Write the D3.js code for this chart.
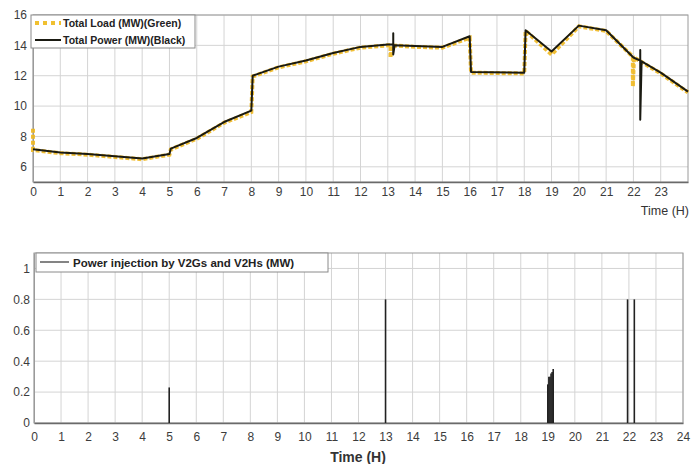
<!DOCTYPE html>
<html>
<head>
<meta charset="utf-8">
<script src="https://cdn.jsdelivr.net/npm/d3@7"></script>
<style>
  body { margin: 0; background: #fff; }
  text { font-family: "Liberation Sans", Arial, sans-serif; }
</style>
</head>
<body>
<svg width="691" height="464"></svg>
<script>
// top panel: total power (black) and total load (yellow dashed), hours vs MW
var powerT = [0, 1, 2, 3, 4, 5, 5.05, 6, 7, 8, 8.05, 9, 10, 11, 12, 13, 13.2, 13.2, 13.2, 13.25, 14, 15, 16, 16.05, 18, 18.05, 19, 20, 21, 22, 22.25, 22.25, 22.25, 22.3, 23, 24];
var powerV = [7.15, 6.95, 6.85, 6.7, 6.55, 6.85, 7.2, 7.9, 8.95, 9.7, 12.0, 12.6, 13.0, 13.5, 13.9, 14.05, 14.05, 14.8, 13.4, 14.0, 13.95, 13.9, 14.6, 12.25, 12.2, 15.0, 13.6, 15.3, 15.0, 13.2, 13.0, 13.7, 9.1, 12.95, 12.2, 10.95];
var loadT = [0, 0, 0.02, 1, 2, 3, 4, 5, 5.05, 6, 7, 8, 8.05, 9, 10, 11, 12, 13, 13.1, 13.1, 13.15, 14, 15, 16, 16.05, 18, 18.05, 19, 20, 21, 21.98, 21.98, 22.02, 23, 24];
var loadV = [8.5, 7.1, 7.1, 6.9, 6.8, 6.65, 6.5, 6.8, 7.15, 7.85, 8.9, 9.6, 11.95, 12.55, 12.95, 13.45, 13.85, 14.0, 14.0, 13.2, 14.0, 13.9, 13.85, 14.5, 12.2, 12.15, 14.95, 13.4, 15.25, 14.95, 13.25, 11.3, 13.2, 12.15, 10.9];
var topXTicks = d3.range(0, 24);
var topYTicks = [6, 8, 10, 12, 14, 16];

// bottom panel: power injection by V2Gs and V2Hs
var injT = [5, 13, 19.0, 19.04, 19.08, 19.12, 19.16, 19.2, 21.95, 22.2];
var injV = [0.23, 0.8, 0.25, 0.3, 0.3, 0.32, 0.33, 0.35, 0.8, 0.8];
var botXTicks = d3.range(0, 25);
var botYTicks = [0, 0.2, 0.4, 0.6, 0.8, 1];

var svg = d3.select('svg');
var gridColor = '#d4d4d4', frameColor = '#9a9a9a', tickColor = '#3c3c3c';

function panel(x, y, xTicks, yTicks, yFmt, pad) {
  var g = svg.append('g');
  g.selectAll('.vg').data(xTicks).enter().append('line')
    .attr('x1', x).attr('x2', x).attr('y1', y.range()[0]).attr('y2', y.range()[1])
    .attr('stroke', gridColor).attr('stroke-width', 1);
  g.selectAll('.hg').data(yTicks).enter().append('line')
    .attr('y1', y).attr('y2', y).attr('x1', x.range()[0]).attr('x2', x.range()[1])
    .attr('stroke', gridColor).attr('stroke-width', 1);
  g.append('rect')
    .attr('x', x.range()[0]).attr('y', y.range()[1])
    .attr('width', x.range()[1] - x.range()[0]).attr('height', y.range()[0] - y.range()[1])
    .attr('fill', 'none').attr('stroke', frameColor);

  var ax = g.append('g').attr('transform', 'translate(0,' + y.range()[0] + ')')
    .call(d3.axisBottom(x).tickValues(xTicks).tickSize(0).tickPadding(pad[0]).tickFormat(d3.format('d')));
  var ay = g.append('g').attr('transform', 'translate(' + x.range()[0] + ',0)')
    .call(d3.axisLeft(y).tickValues(yTicks).tickSize(0).tickPadding(pad[1]).tickFormat(yFmt));
  [ax, ay].forEach(function(a) {
    a.select('.domain').attr('stroke', '#6a6a6a').attr('stroke-width', 1.3);
    a.selectAll('text').attr('fill', tickColor).style('font-size', '12px')
      .style('font-family', '"Liberation Sans", Arial, sans-serif');
  });
  ay.select('.domain').attr('stroke', frameColor).attr('stroke-width', 1);
  return g;
}

// ---- top panel
var x1 = d3.scaleLinear().domain([0, 24]).range([33, 688]);
var y1 = d3.scaleLinear().domain([5, 16]).range([182, 15]);
panel(x1, y1, topXTicks, topYTicks, d3.format('d'), [5, 6]);

var line1 = d3.line().x(function(d) { return x1(d[0]); }).y(function(d) { return y1(d[1]); });
svg.append('path')
  .attr('d', line1(d3.zip(loadT, loadV)))
  .attr('fill', 'none').attr('stroke', '#f0b820').attr('stroke-width', 4)
  .attr('stroke-dasharray', '4,2').attr('opacity', 0.9);
svg.append('path')
  .attr('d', line1(d3.zip(powerT, powerV)))
  .attr('fill', 'none').attr('stroke', '#1a1a12').attr('stroke-width', 2)
  .attr('stroke-linejoin', 'round');

svg.append('text').attr('x', 689).attr('y', 215).attr('text-anchor', 'end')
  .attr('fill', '#333').style('font-size', '12.5px').text('Time (H)');

// top legend
var lg1 = svg.append('g');
lg1.append('rect').attr('x', 31).attr('y', 15).attr('width', 164).attr('height', 33)
  .attr('fill', '#fff').attr('stroke', '#8a8a8a');
lg1.append('line').attr('x1', 35).attr('x2', 61).attr('y1', 23).attr('y2', 23)
  .attr('stroke', '#f0c030').attr('stroke-width', 4).attr('stroke-dasharray', '4,4');
lg1.append('line').attr('x1', 35).attr('x2', 61).attr('y1', 40).attr('y2', 40)
  .attr('stroke', '#1a1a12').attr('stroke-width', 2);
lg1.append('text').attr('x', 63).attr('y', 27).attr('fill', '#222')
  .style('font-size', '10.5px').style('font-weight', 'bold').text('Total Load (MW)(Green)');
lg1.append('text').attr('x', 63).attr('y', 44).attr('fill', '#222')
  .style('font-size', '10.5px').style('font-weight', 'bold').text('Total Power (MW)(Black)');

// ---- bottom panel
var x2 = d3.scaleLinear().domain([0, 24]).range([34, 683]);
var y2 = d3.scaleLinear().domain([0, 1.1]).range([423, 253]);
panel(x2, y2, botXTicks, botYTicks, function(d) { return d === 0 || d === 1 ? d : d3.format('.1f')(d); }, [9, 4]);

svg.selectAll('.inj').data(d3.zip(injT, injV)).enter().append('line')
  .attr('x1', function(d) { return x2(d[0]); }).attr('x2', function(d) { return x2(d[0]); })
  .attr('y1', y2(0)).attr('y2', function(d) { return y2(d[1]); })
  .attr('stroke', '#222').attr('stroke-width', 1.6);

svg.append('text').attr('x', 358).attr('y', 462).attr('text-anchor', 'middle')
  .attr('fill', '#333').style('font-size', '14px').style('font-weight', 'bold').text('Time (H)');

var lg2 = svg.append('g');
lg2.append('rect').attr('x', 36).attr('y', 253).attr('width', 292).attr('height', 19)
  .attr('fill', '#fff').attr('stroke', '#8a8a8a');
lg2.append('line').attr('x1', 40).attr('x2', 69).attr('y1', 262).attr('y2', 262)
  .attr('stroke', '#333').attr('stroke-width', 1.2);
lg2.append('text').attr('x', 73).attr('y', 266.5).attr('fill', '#222')
  .style('font-size', '11.5px').style('font-weight', 'bold').text('Power injection by V2Gs and V2Hs (MW)');
</script>
</body>
</html>
